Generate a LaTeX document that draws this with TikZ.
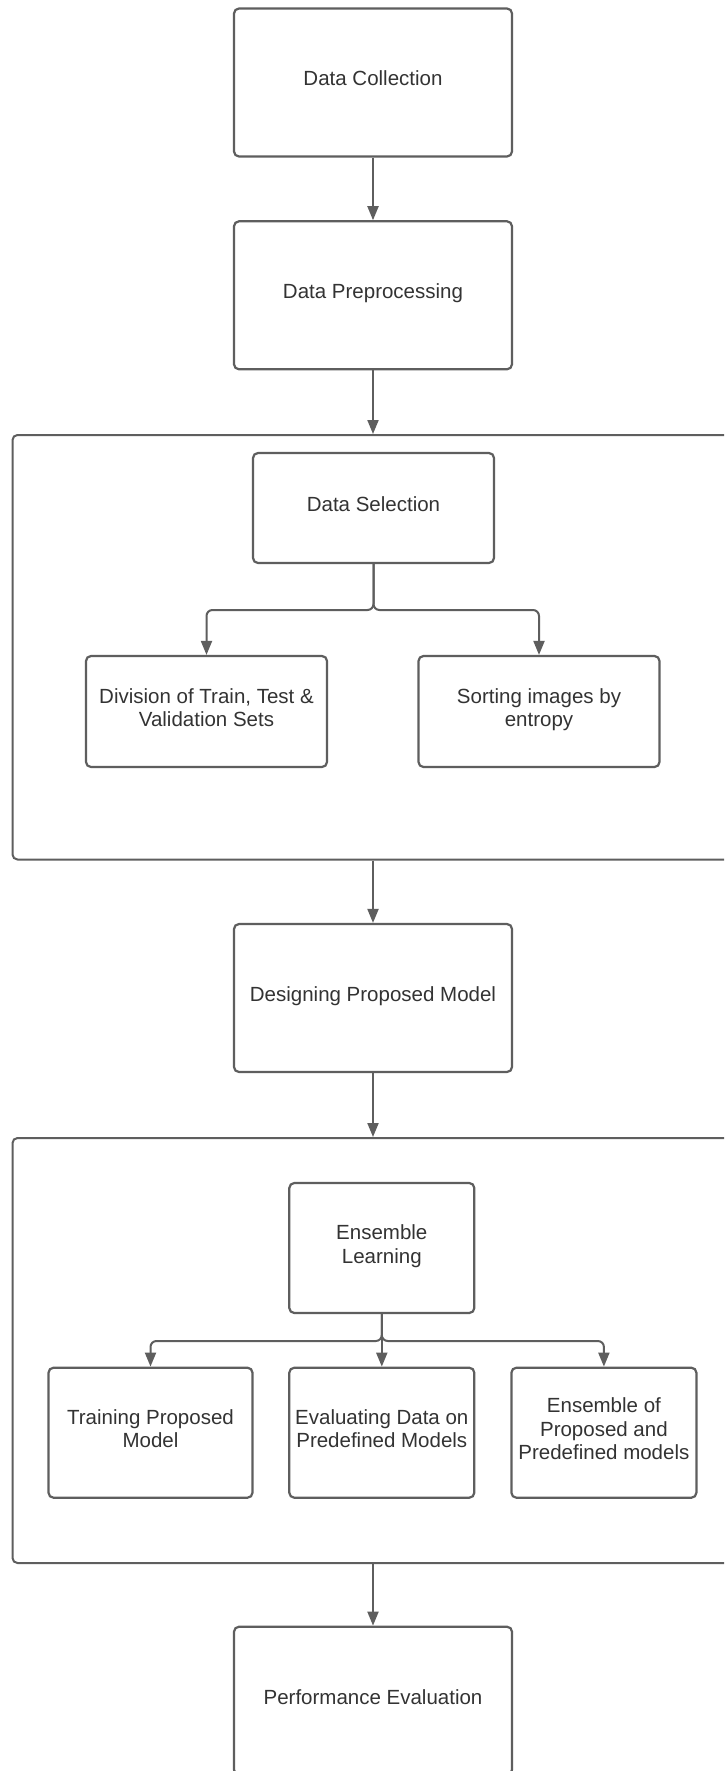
\documentclass[tikz,border=0pt]{standalone}
\usepackage{fontspec}
\setmainfont{Liberation Sans}
\usetikzlibrary{arrows.meta}
\definecolor{ln}{HTML}{5E5E5E}
\definecolor{tx}{HTML}{333333}
\begin{document}
\begin{tikzpicture}[x=1pt,y=-1pt,
  font=\fontsize{20.5}{23.7}\selectfont,
  box/.style={draw=ln, line width=2.2pt, rounded corners=5pt, fill=white, text=tx, align=center, inner sep=0pt,
    execute at begin node={\rule{0pt}{15pt}}, execute at end node={\rule[-8pt]{0pt}{8pt}}},
  cont/.style={draw=ln, line width=2pt, rounded corners=5pt, inner sep=0pt, anchor=north west},
  arr/.style={draw=ln, line width=2pt, -{Triangle[length=14pt,width=11pt]}}]
\useasboundingbox (0,0) rectangle (724,1771);
\fill[white] (0,0) rectangle (724,1771);
\clip (0,0) rectangle (724,1771);

\node[box, minimum width=278pt, minimum height=148pt] (dc) at (373,82.5) {Data Collection};
\node[box, minimum width=278pt, minimum height=148pt] (dp) at (373,295.3) {Data Preprocessing};

\node[cont, minimum width=748.5pt, minimum height=424.5pt] (c1) at (11.5,434) {};
\node[box, minimum width=241pt, minimum height=110pt] (ds) at (373.5,508) {Data Selection};
\node[box, minimum width=241pt, minimum height=111pt] (dv) at (206.5,711.5) {Division of Train, Test \&\\Validation Sets};
\node[box, minimum width=241pt, minimum height=111pt] (si) at (539,711.5) {Sorting images by\\entropy};

\node[box, minimum width=278pt, minimum height=148pt] (dm) at (373,998) {Designing Proposed Model};

\node[cont, minimum width=748.5pt, minimum height=425pt] (c2) at (11.5,1137) {};
\node[box, minimum width=185pt, minimum height=130pt] (el) at (381.8,1248) {Ensemble\\Learning};
\node[box, minimum width=204pt, minimum height=130pt] (tp) at (150.5,1432.7) {Training Proposed\\Model};
\node[box, minimum width=185pt, minimum height=130pt] (ev) at (381.8,1432.7) {Evaluating Data on\\Predefined Models};
\node[box, minimum width=185pt, minimum height=130pt] (en) at (603.9,1432.7) {Ensemble of\\Proposed and\\Predefined models};

\node[box, minimum width=278pt, minimum height=148pt] (pe) at (373,1700.7) {Performance Evaluation};

\coordinate (j1) at (373.5,610);
\coordinate (j2) at (381.8,1341);

\draw[arr] (dc.south) -- (dp.north);
\draw[arr] (dp.south) -- (dp.south |- c1.north);
\draw[arr, rounded corners=6pt] (ds.south) -- (j1) -| (dv.north);
\draw[arr, rounded corners=6pt] (ds.south) -- (j1) -| (si.north);
\draw[arr] (dm.north |- c1.south) -- (dm.north);
\draw[arr] (dm.south) -- (dm.south |- c2.north);
\draw[arr, rounded corners=6pt] (el.south) -- (j2) -| (tp.north);
\draw[arr] (el.south) -- (ev.north);
\draw[arr, rounded corners=6pt] (el.south) -- (j2) -| (en.north);
\draw[arr] (pe.north |- c2.south) -- (pe.north);
\end{tikzpicture}
\end{document}
